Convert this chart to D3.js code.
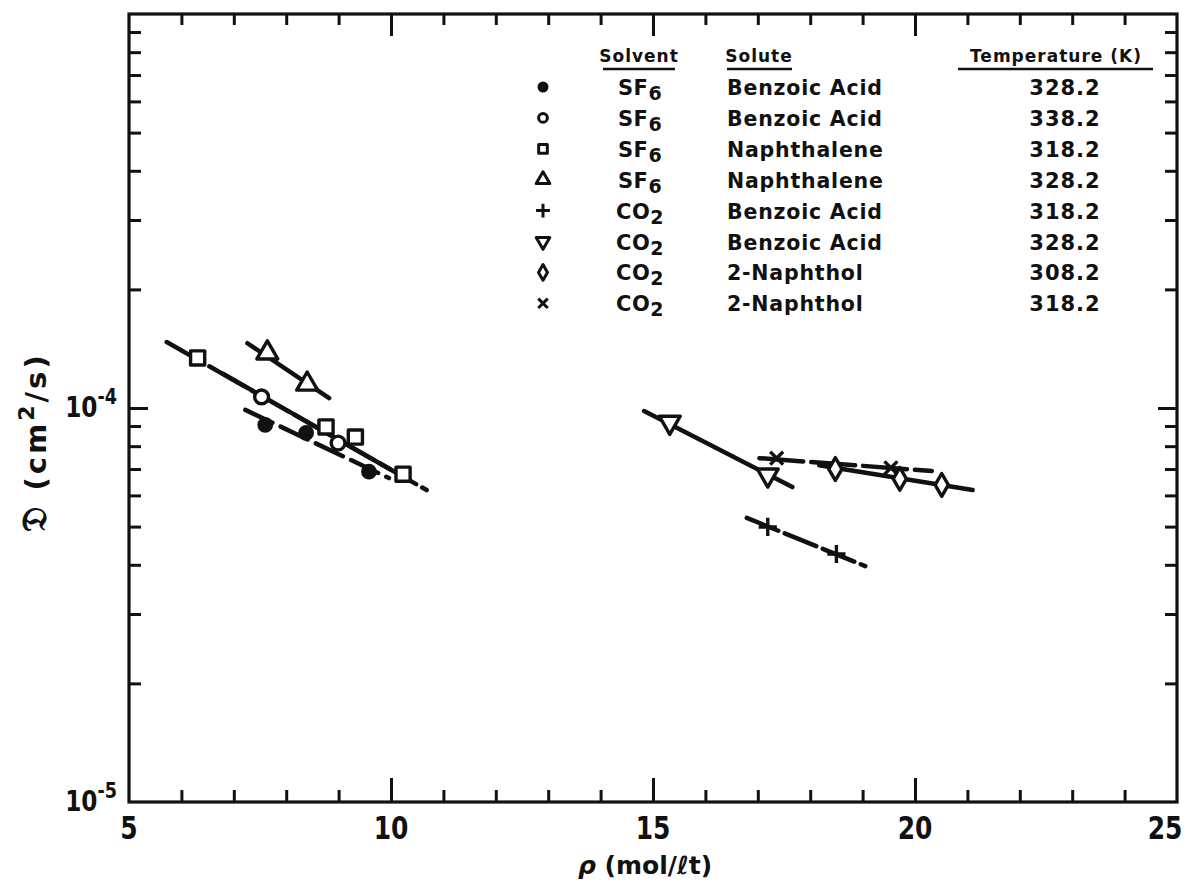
<!DOCTYPE html>
<html>
<head>
<meta charset="utf-8">
<script src="https://cdn.jsdelivr.net/npm/d3@7"></script>
<style>
  body { margin: 0; background: #fff; }
  text { font-family: "DejaVu Sans", sans-serif; font-weight: bold; fill: #111; }
</style>
</head>
<body>
<div id="chart"></div>
<script>
// Diffusion coefficients in supercritical solvents vs. density.
const rhoDomain = [5, 25];
const diffDomain = [1e-5, 1e-3];
const xTickLabels = [5, 10, 15, 20, 25];

// SF6 / benzoic acid, 328.2 K (filled circles)
const sf6Ba328Rho = [7.60, 8.38, 9.58];
const sf6Ba328D = [9.06e-5, 8.65e-5, 6.89e-5];
const sf6Ba328FitRho = [7.22, 9.96];
const sf6Ba328FitD = [9.89e-5, 6.64e-5];

// SF6 / benzoic acid, 338.2 K (open circles)
const sf6Ba338Rho = [7.53, 8.99];
const sf6Ba338D = [1.067e-4, 8.15e-5];
const sf6Ba338FitRho = [6.8, 10.0];
const sf6Ba338FitD = [1.22e-4, 6.97e-5];

// SF6 / naphthalene, 318.2 K (squares)
const sf6Nap318Rho = [6.31, 8.76, 9.32, 10.23];
const sf6Nap318D = [1.34e-4, 8.95e-5, 8.44e-5, 6.79e-5];
const sf6Nap318FitRho = [5.72, 10.68];
const sf6Nap318FitD = [1.47e-4, 6.19e-5];

// SF6 / naphthalene, 328.2 K (triangles)
const sf6Nap328Rho = [7.64, 8.40];
const sf6Nap328D = [1.38e-4, 1.15e-4];
const sf6Nap328FitRho = [7.26, 8.82];
const sf6Nap328FitD = [1.46e-4, 1.06e-4];

// CO2 / benzoic acid, 318.2 K (plus)
const co2Ba318Rho = [17.19, 18.50];
const co2Ba318D = [4.99e-5, 4.26e-5];
const co2Ba318FitRho = [16.79, 19.05];
const co2Ba318FitD = [5.26e-5, 3.97e-5];

// CO2 / benzoic acid, 328.2 K (inverted triangles)
const co2Ba328Rho = [15.32, 17.19];
const co2Ba328D = [9.20e-5, 6.76e-5];
const co2Ba328FitRho = [14.83, 17.66];
const co2Ba328FitD = [9.82e-5, 6.30e-5];

// CO2 / 2-naphthol, 308.2 K (diamonds)
const co2Nol308Rho = [18.48, 19.71, 20.51];
const co2Nol308D = [7.00e-5, 6.61e-5, 6.38e-5];
const co2Nol308FitRho = [18.17, 21.10];
const co2Nol308FitD = [7.16e-5, 6.19e-5];

// CO2 / 2-naphthol, 318.2 K (x)
const co2Nol318Rho = [17.36, 19.54];
const co2Nol318D = [7.46e-5, 7.05e-5];
const co2Nol318FitRho = [17.03, 20.32];
const co2Nol318FitD = [7.46e-5, 6.92e-5];

// Legend table
const legendSolvent = ['SF', 'SF', 'SF', 'SF', 'CO', 'CO', 'CO', 'CO'];
const legendSolventSub = ['6', '6', '6', '6', '2', '2', '2', '2'];
const legendSolute = ['Benzoic Acid', 'Benzoic Acid', 'Naphthalene', 'Naphthalene',
                      'Benzoic Acid', 'Benzoic Acid', '2-Naphthol', '2-Naphthol'];
const legendTemp = ['328.2', '338.2', '318.2', '328.2', '318.2', '328.2', '308.2', '318.2'];

const zip = (xs, ys) => xs.map((x, i) => ({x: x, y: ys[i]}));

const series = [
  {pts: zip(sf6Ba328Rho, sf6Ba328D), fit: zip(sf6Ba328FitRho, sf6Ba328FitD), sym: 'dot', dash: '30,9'},
  {pts: zip(sf6Ba338Rho, sf6Ba338D), fit: zip(sf6Ba338FitRho, sf6Ba338FitD), sym: 'circle', dash: null},
  {pts: zip(sf6Nap318Rho, sf6Nap318D), fit: zip(sf6Nap318FitRho, sf6Nap318FitD), sym: 'square', dash: '42,7'},
  {pts: zip(sf6Nap328Rho, sf6Nap328D), fit: zip(sf6Nap328FitRho, sf6Nap328FitD), sym: 'triangle', dash: null},
  {pts: zip(co2Ba318Rho, co2Ba318D), fit: zip(co2Ba318FitRho, co2Ba318FitD), sym: 'plus', dash: '34,7'},
  {pts: zip(co2Ba328Rho, co2Ba328D), fit: zip(co2Ba328FitRho, co2Ba328FitD), sym: 'triangleDown', dash: null},
  {pts: zip(co2Nol308Rho, co2Nol308D), fit: zip(co2Nol308FitRho, co2Nol308FitD), sym: 'diamond', dash: null},
  {pts: zip(co2Nol318Rho, co2Nol318D), fit: zip(co2Nol318FitRho, co2Nol318FitD), sym: 'cross', dash: '44,8'}
];

const width = 1187;
const height = 884;
const plotLeft = 129, plotRight = 1177, plotTop = 14, plotBottom = 802;

const x = d3.scaleLinear().domain(rhoDomain).range([plotLeft, plotRight]);
const y = d3.scaleLog().domain(diffDomain).range([plotBottom, plotTop]);

const svg = d3.select('#chart')
  .append('svg')
  .attr('width', width)
  .attr('height', height);

svg.append('rect').attr('width', width).attr('height', height).attr('fill', '#fff');

// Ticks point inward on all four sides.
const minorX = d3.range(6, 25).filter(d => d % 5 !== 0);
const majorX = [10, 15, 20];
const yTicks = [];
[1e-5, 1e-4].forEach(dec => d3.range(2, 10).forEach(m => yTicks.push(m * dec)));

function styleAxis(g) {
  g.select('.domain').remove();
  g.selectAll('line').attr('stroke', '#111').attr('stroke-width', 3);
  g.selectAll('text').remove();
}

svg.append('g').attr('transform', `translate(0,${plotBottom})`)
  .call(d3.axisBottom(x).tickValues(minorX).tickSize(-12)).call(styleAxis);
svg.append('g').attr('transform', `translate(0,${plotBottom})`)
  .call(d3.axisBottom(x).tickValues(majorX).tickSize(-24)).call(styleAxis);
svg.append('g').attr('transform', `translate(0,${plotTop})`)
  .call(d3.axisTop(x).tickValues(minorX).tickSize(-11)).call(styleAxis);
svg.append('g').attr('transform', `translate(0,${plotTop})`)
  .call(d3.axisTop(x).tickValues(majorX).tickSize(-22)).call(styleAxis);
svg.append('g').attr('transform', `translate(${plotLeft},0)`)
  .call(d3.axisLeft(y).tickValues(yTicks).tickSize(-12)).call(styleAxis);
svg.append('g').attr('transform', `translate(${plotLeft},0)`)
  .call(d3.axisLeft(y).tickValues([1e-4]).tickSize(-19)).call(styleAxis);
svg.append('g').attr('transform', `translate(${plotRight},0)`)
  .call(d3.axisRight(y).tickValues(yTicks).tickSize(-12)).call(styleAxis);
svg.append('g').attr('transform', `translate(${plotRight},0)`)
  .call(d3.axisRight(y).tickValues([1e-4]).tickSize(-19)).call(styleAxis);

// Frame
svg.append('rect')
  .attr('x', plotLeft).attr('y', plotTop)
  .attr('width', plotRight - plotLeft).attr('height', plotBottom - plotTop)
  .attr('fill', 'none').attr('stroke', '#111').attr('stroke-width', 3.2);

// X tick labels, narrowed lettering (last one pulled in so it stays on the page)
svg.append('g').selectAll('text')
  .data(xTickLabels)
  .enter()
  .append('text')
  .attr('transform', d => `translate(${Math.min(x(d), width - 22)},${plotBottom + 37}) scale(0.78,1)`)
  .attr('text-anchor', 'middle')
  .style('font-size', '32px')
  .text(d => d);

// Y tick labels (powers of ten)
const yLabels = [{v: 1e-4, exp: '-4'}, {v: 1e-5, exp: '-5'}];
const yl = svg.append('g').selectAll('text')
  .data(yLabels)
  .enter()
  .append('text')
  .attr('transform', d => `translate(${plotLeft - 12},${y(d.v) + 9}) scale(0.8,1)`)
  .attr('text-anchor', 'end')
  .style('font-size', '29px');
yl.append('tspan').text('10');
yl.append('tspan').attr('dy', -13).style('font-size', '22px').text(d => d.exp);

// Axis titles
const xt = svg.append('text')
  .attr('x', 645)
  .attr('y', 874)
  .attr('text-anchor', 'middle')
  .style('font-size', '25px');
xt.append('tspan').style('font-style', 'italic').text('ρ');
xt.append('tspan').text(' (mol/ℓt)');

const yt = svg.append('text')
  .attr('transform', `translate(46,${y(8.2e-5)}) rotate(-90)`)
  .attr('text-anchor', 'middle')
  .style('font-size', '29px')
  .style('letter-spacing', '3px');
yt.append('tspan').style('font-size', '34px').text('𝔇');
yt.append('tspan').text(' (cm');
yt.append('tspan').attr('dy', -12).style('font-size', '22px').text('2');
yt.append('tspan').attr('dy', 12).text('/s)');

// Marker shapes
const symbolPaths = {
  dot: d3.symbol(d3.symbolCircle, 120)(),
  circle: d3.symbol(d3.symbolCircle, 150)(),
  square: d3.symbol(d3.symbolSquare, 200)(),
  triangle: d3.symbol(d3.symbolTriangle, 190)(),
  triangleDown: d3.symbol(d3.symbolTriangle, 190)(),
  diamond: d3.symbol(d3.symbolDiamond, 150)(),
  plus: d3.symbol(d3.symbolPlus, 110)(),
  cross: d3.symbol(d3.symbolTimes, 110)()
};
const legendSymbolPaths = {
  dot: d3.symbol(d3.symbolCircle, 50)(),
  circle: d3.symbol(d3.symbolCircle, 60)(),
  square: d3.symbol(d3.symbolSquare, 75)(),
  triangle: d3.symbol(d3.symbolTriangle, 80)(),
  triangleDown: d3.symbol(d3.symbolTriangle, 80)(),
  diamond: d3.symbol(d3.symbolDiamond, 70)(),
  plus: d3.symbol(d3.symbolPlus, 65)(),
  cross: d3.symbol(d3.symbolTimes, 60)()
};
const openSym = s => s !== 'dot' && s !== 'plus' && s !== 'cross';

function drawMarker(sel, sym, paths, sw) {
  sel.append('path')
    .attr('d', paths[sym])
    .attr('transform', sym === 'triangleDown' ? 'rotate(180)' : null)
    .attr('fill', sym === 'dot' ? '#111' : (openSym(sym) ? '#fff' : 'none'))
    .attr('stroke', '#111')
    .attr('stroke-width', sw)
    .attr('stroke-linejoin', 'round');
}

const line = d3.line().x(d => x(d.x)).y(d => y(d.y));
const plot = svg.append('g');

series.forEach(s => {
  plot.append('path')
    .datum(s.fit)
    .attr('d', line)
    .attr('fill', 'none')
    .attr('stroke', '#111')
    .attr('stroke-width', 4.5)
    .attr('stroke-linecap', 'round')
    .attr('stroke-dasharray', s.dash);
});

series.forEach(s => {
  const m = plot.append('g').selectAll('g')
    .data(s.pts)
    .enter()
    .append('g')
    .attr('transform', d => `translate(${x(d.x)},${y(d.y)})`);
  drawMarker(m, s.sym, symbolPaths, 3.4);
});

// Legend
const legend = svg.append('g');
const rowY = d3.range(8).map(i => 95 + i * 30.9);
const headers = [
  {t: 'Solvent', x: 639, x0: 603, x1: 675},
  {t: 'Solute', x: 759, x0: 727, x1: 792},
  {t: 'Temperature (K)', x: 1056, x0: 958, x1: 1153}
];
legend.selectAll('text.h')
  .data(headers)
  .enter()
  .append('text')
  .attr('class', 'h')
  .attr('x', d => d.x)
  .attr('y', 62)
  .attr('text-anchor', 'middle')
  .style('font-size', '17px')
  .style('letter-spacing', '1px')
  .text(d => d.t);
legend.selectAll('line.u')
  .data(headers)
  .enter()
  .append('line')
  .attr('class', 'u')
  .attr('x1', d => d.x0).attr('x2', d => d.x1)
  .attr('y1', 69).attr('y2', 69)
  .attr('stroke', '#111').attr('stroke-width', 2.5);

series.forEach((s, i) => {
  const g = legend.append('g').attr('transform', `translate(543,${rowY[i] - 8})`);
  drawMarker(g, s.sym, legendSymbolPaths, 3);
});

const solventText = legend.selectAll('text.sv')
  .data(legendSolvent)
  .enter()
  .append('text')
  .attr('class', 'sv')
  .attr('x', 640)
  .attr('y', (d, i) => rowY[i])
  .attr('text-anchor', 'middle')
  .style('font-size', '21px')
  .style('letter-spacing', '0.5px');
solventText.append('tspan').text(d => d);
solventText.append('tspan').attr('dy', 5).style('font-size', '19px').text((d, i) => legendSolventSub[i]);

legend.selectAll('text.so')
  .data(legendSolute)
  .enter()
  .append('text')
  .attr('class', 'so')
  .attr('x', 727)
  .attr('y', (d, i) => rowY[i])
  .style('font-size', '20.5px')
  .style('letter-spacing', '0.8px')
  .text(d => d);

legend.selectAll('text.te')
  .data(legendTemp)
  .enter()
  .append('text')
  .attr('class', 'te')
  .attr('x', 1065)
  .attr('y', (d, i) => rowY[i])
  .attr('text-anchor', 'middle')
  .style('font-size', '21px')
  .style('letter-spacing', '1px')
  .text(d => d);
</script>
</body>
</html>
